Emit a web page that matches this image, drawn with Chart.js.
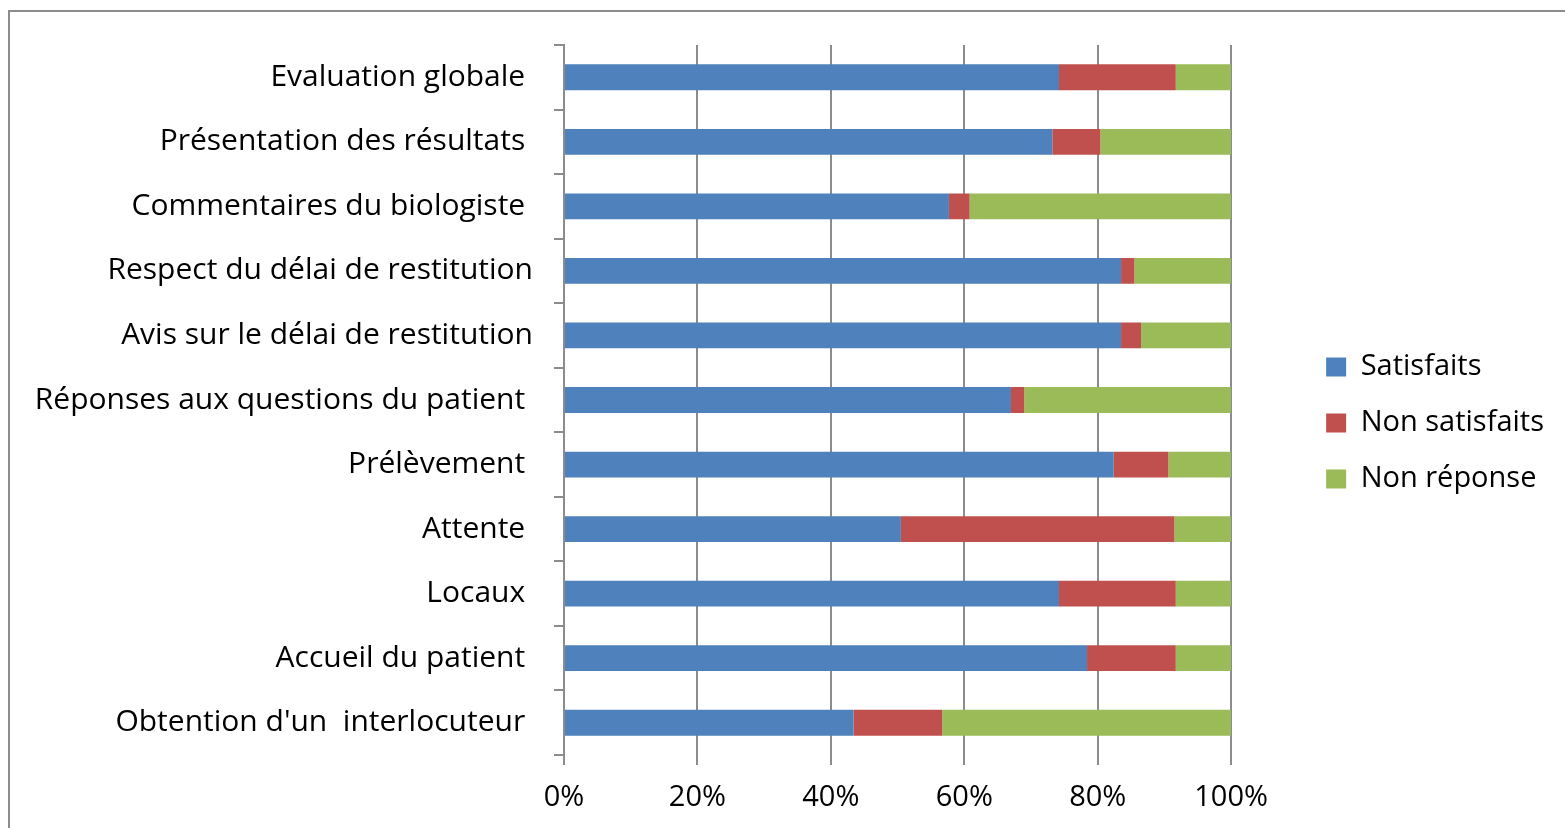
<!DOCTYPE html>
<html><head><meta charset="utf-8">
<script src="https://cdn.jsdelivr.net/npm/chart.js@4"></script>
<style>
html,body{margin:0;padding:0;background:#fff;overflow:hidden}
#frame{position:absolute;left:8px;top:10px;width:1600px;height:900px;border-left:2px solid #8c8c8c;border-top:2px solid #8c8c8c;}
#wrap{position:absolute;left:0;top:0;width:1565px;height:828px}
</style></head>
<body>
<div id="frame"></div>
<div id="wrap"><canvas id="c"></canvas></div>
<script>
const categories = ["Evaluation globale ", "Présentation des résultats ", "Commentaires du biologiste ", "Respect du délai de restitution", "Avis sur le délai de restitution", "Réponses aux questions du patient ", "Prélèvement ", "Attente ", "Locaux ", "Accueil du patient ", "Obtention d'un  interlocuteur "];
const satisfaits    = [74.2, 73.2, 57.7, 83.5, 83.5, 67.0, 82.4, 50.5, 74.2, 78.4, 43.4];
const nonSatisfaits = [17.5,  7.2,  3.1,  2.0,  3.0,  2.0,  8.2, 41.0, 17.5, 13.3, 13.3];
const nonReponse    = [ 8.3, 19.6, 39.2, 14.5, 13.5, 31.0,  9.4,  8.5,  8.3,  8.3, 43.3];
const seriesNames = ["Satisfaits", "Non satisfaits", "Non réponse"];
const xTicks = [0, 20, 40, 60, 80, 100];

const FONT = 'Open Sans';
const GRID = '#8c8c8c';

function draw(){
  Chart.defaults.font.family = FONT;
  Chart.defaults.color = '#000';
  new Chart(document.getElementById('c'), {
    type: 'bar',
    data: {
      labels: categories,
      datasets: [
        {label: seriesNames[0], data: satisfaits, backgroundColor: '#4F81BD'},
        {label: seriesNames[1], data: nonSatisfaits, backgroundColor: '#C0504D'},
        {label: seriesNames[2], data: nonReponse, backgroundColor: '#9BBB59'}
      ]
    },
    options: {
      indexAxis: 'y',
      responsive: true,
      maintainAspectRatio: false,
      animation: false,
      layout: {padding: {top: 45, left: 0, right: 11, bottom: 0}},
      datasets: {bar: {barPercentage: 0.4, categoryPercentage: 1.0, borderWidth: 0}},
      scales: {
        x: {
          stacked: true, min: 0, max: 100,
          afterBuildTicks(s){ s.ticks = xTicks.map(v => ({value: v})); },
          ticks: {callback: v => v + '%', color: '#000', font: {size: 29}, padding: 15},
          grid: {color: GRID, lineWidth: 2, tickLength: 10, drawTicks: true},
          border: {display: false},
          afterFit(s){ s.height = 73; }
        },
        y: {
          stacked: true,
          ticks: {color: '#000', font: {size: 30}, padding: 21, autoSkip: false},
          grid: {display: true, drawOnChartArea: false, drawTicks: true, tickLength: 10, color: GRID, lineWidth: 2, offset: true},
          border: {display: true, color: GRID, width: 2},
          afterFit(s){ s.width = 564; }
        },
        yr: {
          type: 'linear', position: 'right', display: true,
          ticks: {display: false}, grid: {display: false}, border: {display: false},
          afterFit(s){ s.width = 68; }
        }
      },
      plugins: {
        tooltip: {enabled: false},
        legend: {
          position: 'right',
          fullSize: false,
          title: {display: true, text: ' ', font: {size: 10}, padding: {top: 17, bottom: 17}},
          labels: {boxWidth: 20, boxHeight: 19, padding: 27, font: {size: 29}, color: '#000'}
        }
      }
    }
  });
}
if (document.fonts && document.fonts.load) {
  document.fonts.load('29px "' + FONT + '"').then(draw, draw);
} else { draw(); }
</script>
</body></html>
